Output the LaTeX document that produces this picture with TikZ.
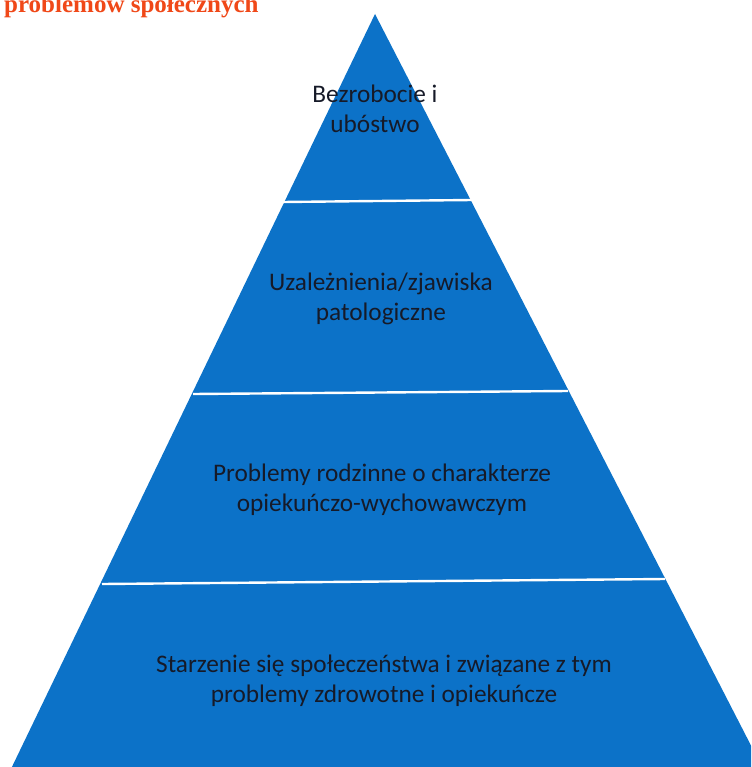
\documentclass[tikz,border=0pt]{standalone}
\usepackage{fontspec}
\setmainfont{Carlito}
\newfontfamily\titlefont{Liberation Serif}
\definecolor{pyrblue}{RGB}{12,114,200}
\definecolor{txtdark}{RGB}{22,26,40}
\definecolor{titlered}{RGB}{240,72,24}
\begin{document}
\begin{tikzpicture}[x=1pt,y=-1pt,
  lbl/.style={text=txtdark,align=center,font=\fontsize{25.3}{30}\selectfont,inner sep=0pt},
  divider/.style={draw=white,line width=2.4pt}]
\useasboundingbox (0,0) rectangle (751,767);
\clip (0,0) rectangle (751,767);
\fill[white] (0,0) rectangle (751,767);
% pyramid
\fill[pyrblue] (375,14) -- (-4,800) -- (779,800) -- cycle;
% dividers
\draw[divider] (283,202) -- (472,200);
\draw[divider] (193,394) -- (568,391);
\draw[divider] (102,584) -- (665,579);
% title (cut off at top)
\node[anchor=base west,inner sep=0pt,text=titlered,font=\titlefont\bfseries\fontsize{25}{28}\selectfont] (title) at (4,13) {problemów społecznych};
% labels
\node[lbl] (t1) at (375,109) {Bezrobocie i\\ubóstwo};
\node[lbl] (t2) at (381,299) {Uzależnienia/zjawiska\\patologiczne};
\node[lbl] (t3) at (382,490) {Problemy rodzinne o charakterze\\opiekuńczo-wychowawczym};
\node[lbl] (t4) at (384,681) {Starzenie się społeczeństwa i związane z tym\\problemy zdrowotne i opiekuńcze};
\end{tikzpicture}
\end{document}
